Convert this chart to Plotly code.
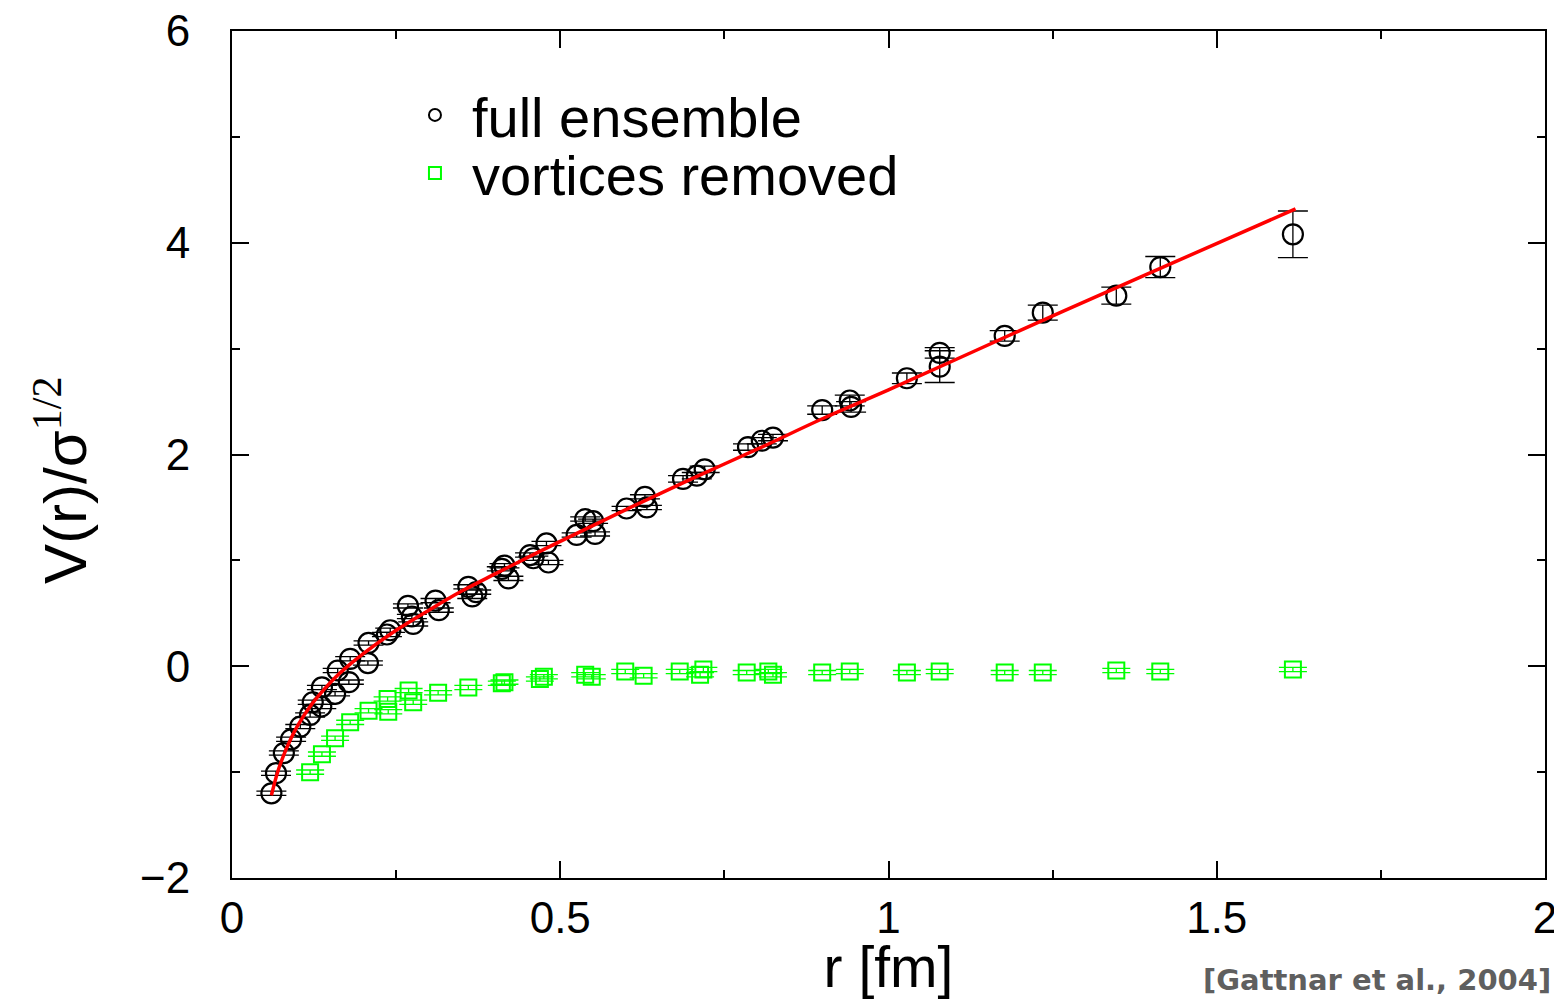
import plotly.graph_objects as go

# ---- data ----
r_full = [0.060, 0.067, 0.079, 0.090, 0.104, 0.119, 0.123, 0.136, 0.137, 0.157,
          0.161, 0.178, 0.180, 0.207, 0.208, 0.236, 0.241, 0.268, 0.274, 0.276,
          0.310, 0.315, 0.360, 0.366, 0.372, 0.411, 0.415, 0.421, 0.454, 0.459,
          0.479, 0.482, 0.525, 0.538, 0.550, 0.553, 0.601, 0.629, 0.632, 0.687,
          0.708, 0.720, 0.786, 0.807, 0.824, 0.899, 0.941, 0.943, 1.028, 1.078,
          1.078, 1.177, 1.235, 1.347, 1.414, 1.616]
v_full = [-1.20, -1.01, -0.82, -0.69, -0.57, -0.46, -0.34, -0.38, -0.20, -0.26,
          -0.04, -0.15, 0.07, 0.03, 0.22, 0.30, 0.34, 0.57, 0.47, 0.40,
          0.62, 0.53, 0.75, 0.66, 0.70, 0.92, 0.95, 0.83, 1.05, 1.02,
          1.16, 0.98, 1.24, 1.39, 1.37, 1.25, 1.49, 1.60, 1.50, 1.77,
          1.80, 1.86, 2.07, 2.13, 2.16, 2.42, 2.51, 2.45, 2.72, 2.96,
          2.83, 3.12, 3.34, 3.50, 3.77, 4.08]
err_full = [0.02, 0.02, 0.02, 0.02, 0.02, 0.02, 0.02, 0.02, 0.02, 0.02,
            0.02, 0.02, 0.02, 0.02, 0.02, 0.02, 0.02, 0.02, 0.02, 0.02,
            0.02, 0.02, 0.02, 0.02, 0.02, 0.02, 0.02, 0.02, 0.02, 0.02,
            0.02, 0.02, 0.02, 0.02, 0.02, 0.02, 0.02, 0.02, 0.02, 0.03,
            0.03, 0.03, 0.03, 0.03, 0.03, 0.04, 0.05, 0.05, 0.05, 0.05,
            0.15, 0.05, 0.07, 0.08, 0.10, 0.22]

r_vort = [0.119, 0.137, 0.157, 0.180, 0.208, 0.237, 0.238, 0.269, 0.276, 0.314,
          0.360, 0.411, 0.415, 0.469, 0.475, 0.538, 0.548, 0.599, 0.627, 0.682,
          0.713, 0.718, 0.784, 0.817, 0.824, 0.899, 0.941, 1.028, 1.078, 1.177,
          1.235, 1.347, 1.414, 1.616]
v_vort = [-1.00, -0.83, -0.68, -0.53, -0.42, -0.31, -0.43, -0.23, -0.34, -0.25,
          -0.20, -0.16, -0.15, -0.12, -0.10, -0.08, -0.10, -0.05, -0.09, -0.05,
          -0.08, -0.03, -0.06, -0.05, -0.08, -0.06, -0.05, -0.06, -0.05, -0.06,
          -0.06, -0.04, -0.05, -0.03]
err_vort = [0.02] * len(r_vort)

r_fit = [0.06, 0.07, 0.08, 0.09, 0.10, 0.12, 0.14, 0.16, 0.18, 0.20, 0.25, 0.30,
         0.35, 0.40, 0.50, 0.60, 0.70, 0.80, 0.90, 1.00, 1.20, 1.40, 1.62]
v_fit = [-1.22, -0.99, -0.82, -0.68, -0.56, -0.37, -0.22, -0.09, 0.02, 0.12, 0.34, 0.53,
         0.71, 0.87, 1.18, 1.48, 1.77, 2.05, 2.34, 2.61, 3.17, 3.72, 4.32]

x_ticks = [0, 0.5, 1, 1.5, 2]
x_ticklabels = ["0", "0.5", "1", "1.5", "2"]
y_ticks = [-2, 0, 2, 4, 6]
y_ticklabels = ["\u22122", "0", "2", "4", "6"]

FONT = "Liberation Sans, Arial, sans-serif"
GREEN = "#00ff00"

fig = go.Figure()

fig.add_trace(go.Scatter(
    x=r_full, y=v_full, mode="markers", name="full ensemble", legend="legend",
    marker=dict(symbol="circle-open", size=20, color="black", line=dict(width=2.2, color="black")),
    error_y=dict(type="data", array=err_full, visible=True, color="black", thickness=1.3, width=15),
))
fig.add_trace(go.Scatter(
    x=r_vort, y=v_vort, mode="markers", name="vortices removed", legend="legend2",
    marker=dict(symbol="square-open", size=16, color=GREEN, line=dict(width=2, color=GREEN)),
    error_y=dict(type="data", array=err_vort, visible=True, color=GREEN, thickness=1.3, width=14),
))
fig.add_trace(go.Scatter(
    x=r_fit, y=v_fit, mode="lines", showlegend=False,
    line=dict(color="#ff0000", width=3.5, shape="spline"),
))

axis_common = dict(
    showline=True, linecolor="black", linewidth=2, mirror="allticks",
    ticks="inside", ticklen=17, tickwidth=1.5, tickcolor="black",
    showgrid=False, zeroline=False, automargin=False, ticklabeloverflow="allow",
    tickfont=dict(family=FONT, size=44, color="black"),
)

legend_common = dict(
    xanchor="left", yanchor="middle", bgcolor="rgba(0,0,0,0)", borderwidth=0,
    font=dict(family=FONT, size=56, color="black"),
    itemsizing="constant", itemwidth=64,
)

fig.update_layout(
    width=1554, height=991,
    margin=dict(l=224, r=17, t=23, b=121),
    paper_bgcolor="white", plot_bgcolor="white",
    font=dict(family=FONT, color="black"),
    xaxis=dict(range=[0, 2], tickvals=x_ticks, ticktext=x_ticklabels,
               minor=dict(dtick=0.25, ticks="inside", ticklen=8, tickcolor="black", tickwidth=1.5),
               ticklabelstandoff=0,
               title=dict(text="r [fm]", font=dict(family=FONT, size=57), standoff=3),
               **axis_common),
    yaxis=dict(range=[-2, 6], tickvals=y_ticks, ticktext=y_ticklabels,
               minor=dict(dtick=1, ticks="inside", ticklen=8, tickcolor="black", tickwidth=1.5),
               ticklabelstandoff=31,
               **axis_common),
    showlegend=True,
    legend=dict(x=0.1264, y=0.9008, **legend_common),
    legend2=dict(x=0.1264, y=0.8323, **legend_common),
    annotations=[
        dict(text="V(r)/\u03c3<sup><span style='font-family:\"Times New Roman\",\"Liberation Serif\",serif'>1/2</span></sup>",
             xref="paper", yref="paper", x=-0.1295, y=0.470, textangle=-90,
             xanchor="center", yanchor="middle", showarrow=False,
             font=dict(family=FONT, size=60, color="black")),
        dict(text="<b>[Gattnar et al., 2004]</b>", xref="paper", yref="paper",
             x=1.006, y=-0.1204, xanchor="right", yanchor="middle", showarrow=False,
             font=dict(family="DejaVu Sans, sans-serif", size=29, color="#5f5f5f")),
    ],
)

fig.write_html("out.html")
